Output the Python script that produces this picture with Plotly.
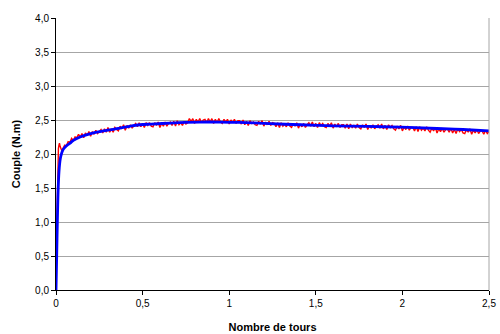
import plotly.graph_objects as go

# Blue (smooth) series
blue_x = [0, 0.004, 0.008, 0.013, 0.019, 0.027, 0.04, 0.052, 0.065, 0.081, 0.1, 0.139,
          0.2, 0.254, 0.3, 0.37, 0.43, 0.485, 0.55, 0.66, 0.75, 0.83, 0.95, 1.06, 1.2,
          1.41, 1.6, 1.8, 1.99, 2.2, 2.35, 2.5]
blue_y = [0, 0.5, 1.03, 1.52, 1.8, 1.96, 2.06, 2.1, 2.13, 2.16, 2.2, 2.25,
          2.30, 2.33, 2.35, 2.38, 2.41, 2.43, 2.44, 2.455, 2.465, 2.47, 2.47, 2.465, 2.45,
          2.43, 2.415, 2.405, 2.395, 2.375, 2.36, 2.34]

# Red (measured, noisy) series - start-up part
red_start_x = [0, 0.002, 0.005, 0.008, 0.011, 0.014, 0.017, 0.02, 0.024, 0.028, 0.033, 0.038, 0.045, 0.05]
red_start_y = [0.3, 0.6, 1.1, 1.5, 1.9, 2.08, 2.13, 2.16, 2.11, 2.07, 2.05, 2.07, 2.11, 2.13]

# Red series from x = 0.06 every 0.01 turns
red_step = 0.01
red_first = 0.06
red_y_main = [
    2.12, 2.18, 2.17, 2.23, 2.20, 2.25, 2.24, 2.29, 2.25, 2.30,
    2.24, 2.31, 2.27, 2.33, 2.26, 2.33, 2.29, 2.35, 2.30, 2.34,
    2.36, 2.31, 2.37, 2.32, 2.39, 2.32, 2.37, 2.32, 2.39, 2.36,
    2.34, 2.41, 2.37, 2.43, 2.35, 2.42, 2.38, 2.43, 2.38, 2.42,
    2.45, 2.40, 2.46, 2.40, 2.45, 2.39, 2.46, 2.42, 2.46, 2.41,
    2.40, 2.46, 2.42, 2.47, 2.39, 2.45, 2.41, 2.47, 2.41, 2.45,
    2.47, 2.42, 2.48, 2.41, 2.49, 2.43, 2.46, 2.42, 2.48, 2.44,
    2.46, 2.52, 2.48, 2.52, 2.45, 2.51, 2.47, 2.52, 2.46, 2.50,
    2.51, 2.46, 2.52, 2.47, 2.52, 2.45, 2.51, 2.46, 2.52, 2.47,
    2.45, 2.51, 2.47, 2.51, 2.44, 2.50, 2.46, 2.51, 2.45, 2.49,
    2.49, 2.44, 2.50, 2.43, 2.48, 2.42, 2.49, 2.45, 2.47, 2.43,
    2.42, 2.48, 2.44, 2.49, 2.41, 2.47, 2.43, 2.48, 2.42, 2.46,
    2.45, 2.40, 2.46, 2.39, 2.46, 2.41, 2.44, 2.40, 2.46, 2.41,
    2.39, 2.45, 2.41, 2.46, 2.38, 2.44, 2.40, 2.45, 2.39, 2.43,
    2.46, 2.41, 2.47, 2.40, 2.45, 2.39, 2.46, 2.42, 2.45, 2.40,
    2.39, 2.45, 2.41, 2.46, 2.38, 2.44, 2.40, 2.45, 2.39, 2.43,
    2.43, 2.38, 2.44, 2.37, 2.44, 2.39, 2.42, 2.38, 2.44, 2.39,
    2.37, 2.43, 2.39, 2.44, 2.36, 2.42, 2.38, 2.43, 2.37, 2.41,
    2.43, 2.38, 2.44, 2.37, 2.42, 2.36, 2.43, 2.39, 2.42, 2.37,
    2.35, 2.41, 2.37, 2.42, 2.34, 2.40, 2.36, 2.41, 2.35, 2.39,
    2.39, 2.34, 2.40, 2.33, 2.40, 2.35, 2.38, 2.34, 2.40, 2.35,
    2.32, 2.38, 2.34, 2.39, 2.31, 2.37, 2.33, 2.38, 2.32, 2.36,
    2.37, 2.32, 2.38, 2.31, 2.36, 2.30, 2.37, 2.33, 2.36, 2.31,
    2.30, 2.36, 2.32, 2.37, 2.29, 2.35, 2.31, 2.36, 2.30, 2.34,
    2.34, 2.29, 2.35, 2.30, 2.33,
]
red_x_main = [round(red_first + red_step * i, 4) for i in range(len(red_y_main))]

red_x = red_start_x + red_x_main
red_y = red_start_y + red_y_main

x_ticks = [0, 0.5, 1, 1.5, 2, 2.5]
x_tick_labels = ["0", "0,5", "1", "1,5", "2", "2,5"]
y_ticks = [0, 0.5, 1, 1.5, 2, 2.5, 3, 3.5, 4]
y_tick_labels = ["0,0", "0,5", "1,0", "1,5", "2,0", "2,5", "3,0", "3,5", "4,0"]

fig = go.Figure()
fig.add_trace(go.Scatter(x=red_x, y=red_y, mode="lines",
                         line=dict(color="#FF0000", width=1.4), showlegend=False))
fig.add_trace(go.Scatter(x=blue_x, y=blue_y, mode="lines", line_shape="spline",
                         line=dict(color="#0000FF", width=2.8), showlegend=False))

font_family = "Liberation Sans, Arial, sans-serif"
fig.update_layout(
    width=500, height=334,
    margin=dict(l=56, r=11, t=18, b=44, autoexpand=False),
    paper_bgcolor="white", plot_bgcolor="white",
    font=dict(family=font_family, size=10, color="black"),
    xaxis=dict(range=[0, 2.5], tickvals=x_ticks, ticktext=x_tick_labels,
               showgrid=False, zeroline=False, showline=True, linecolor="black",
               linewidth=1, ticks="outside", ticklen=4, tickcolor="black",
               automargin=False,
               title=dict(text="<b>Nombre de tours</b>", font=dict(size=11), standoff=15)),
    yaxis=dict(range=[0, 4], tickvals=y_ticks, ticktext=y_tick_labels,
               showgrid=True, gridcolor="#A6A6A6", gridwidth=1, zeroline=False,
               showline=True, linecolor="black", linewidth=1,
               ticks="outside", ticklen=4, tickcolor="black",
               automargin=False,
               title=dict(text="<b>Couple (N.m)</b>", font=dict(size=11), standoff=12)),
    shapes=[dict(type="line", xref="paper", yref="paper", x0=1, x1=1, y0=0, y1=1,
                 line=dict(color="#A6A6A6", width=1))],
)

fig.write_html("out.html", config={"displayModeBar": False},
               post_script="document.body.style.margin='0px';")
